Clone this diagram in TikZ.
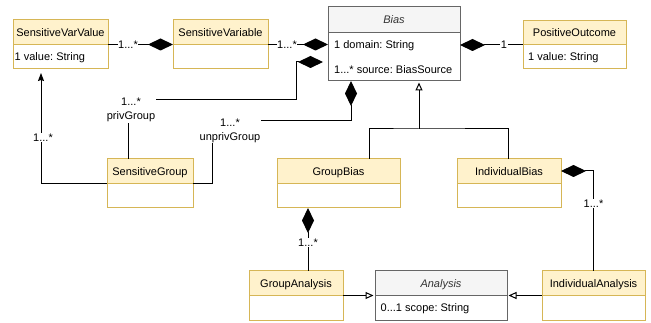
\documentclass[tikz,border=0pt]{standalone}
\usepackage{fontspec}
\setmainfont{Liberation Sans}
\usetikzlibrary{arrows.meta,calc}
\definecolor{yfill}{HTML}{FFF2CC}
\definecolor{yline}{HTML}{D6B656}
\definecolor{gfill}{HTML}{F5F5F5}
\definecolor{gline}{HTML}{666666}
\definecolor{gtext}{HTML}{333333}
\tikzset{
 every node/.style={font=\fontsize{11}{14}\selectfont\frenchspacing},
 boxbase/.style={fill=white, inner sep=0pt, outer sep=0pt},
 ytitle/.style={text=black, text height=8pt, text depth=0pt, inner sep=0pt},
 gtitle/.style={text=gtext, font=\fontsize{11}{14}\selectfont\itshape, text height=8pt, text depth=0pt, inner sep=0pt},
 attr/.style={anchor=west, text height=8pt, text depth=0pt, inner sep=0pt},
 edge/.style={draw=black, line width=1pt},
 comp/.style={edge, -{Diamond[length=25pt,width=12pt]}},
 gen/.style={edge, -{Triangle[length=8pt,width=7pt,fill=white]}, shorten >=1.5pt},
 nav/.style={edge, -{Stealth[length=8pt,width=6pt,inset=1pt]}, shorten >=4pt},
 lbl/.style={fill=white, inner sep=0.5pt, text height=8pt, text depth=0pt},
 lbltwo/.style={fill=white, inner sep=1pt, align=center},
}
\newcommand\umlclass[8]{%
 \node[boxbase, minimum width=#4pt, minimum height=#5pt] (#1) at (#2,#3) {};
 \fill[#7fill] (#1.north west) rectangle ($(#1.north east)+(0,#6)$);
 \draw[#7line, line width=1pt] ($(#1.north west)+(0,#6)$) -- ($(#1.north east)+(0,#6)$);
 \draw[#7line, line width=1pt] (#1.north west) rectangle (#1.south east);
 \node[#7title] (#1-title) at ($(#1.north)+(0,#6/2)$) {#8};
}
\begin{document}
\frenchspacing
\begin{tikzpicture}[x=1pt,y=-1pt]
\useasboundingbox (0,0) rectangle (651,323);
% classes
\umlclass{svv}{60.5}{44.5}{95}{49}{24.5}{y}{SensitiveVarValue}
\umlclass{sv}{220.5}{44.5}{95}{49}{24.5}{y}{SensitiveVariable}
\umlclass{bias}{394}{44}{132}{74}{26}{g}{Bias}
\umlclass{po}{574.5}{45}{103}{48}{23.5}{y}{PositiveOutcome}
\umlclass{sg}{150}{183.5}{86}{49}{25}{y}{SensitiveGroup}
\umlclass{gb}{338.5}{183.5}{123}{49}{24.5}{y}{GroupBias}
\umlclass{ib}{509}{183.5}{104}{49}{24.5}{y}{IndividualBias}
\umlclass{ga}{296}{295.5}{94}{49}{25}{y}{GroupAnalysis}
\umlclass{an}{441}{295.5}{132}{49}{25}{g}{Analysis}
\umlclass{ia}{593.5}{295.5}{103}{49}{25}{y}{IndividualAnalysis}
% attributes
\node[attr] (svv-a) at (14.5,57) {1 value: String};
\node[attr] (po-a) at (528,57) {1 value: String};
\node[attr] (bias-a1) at (334,45) {1 domain: String};
\node[attr] (bias-a2) at (334,70) {1...* source: BiasSource};
\node[attr] (an-a) at (380.5,308) {0...1 scope: String};
% connectors
\draw[comp] (svv.east) -- (sv.west);
\draw[comp] (sv.east) -- (sv.east -| bias.west);
\draw[comp] (po.west) -- (po.west -| bias.east);
\draw[comp, shorten >=5pt] (sg.north -| 128,0) -- (128,100) -- (296,100) -- (296,62) -- (bias.west |- 0,62);
\draw[comp] (sg.east) -| (212,121) -| (bias.south -| 351,0);
\draw[nav] (sg.west) -| (svv.south -| 41,0);
\coordinate (jn) at (419,129);
\draw[edge] (gb.north -| 369,0) |- (jn) -| (ib.north -| 508,0);
\draw[gen] (jn) -- (bias.south -| jn);
\draw[comp] (ia.north -| 593,0) |- (ib.east |- 0,171);
\draw[comp] (ga.north -| 308,0) -- (gb.south -| 308,0);
\draw[gen] (ga.east) -- (an.west);
\draw[gen] (ia.west) -- (an.east);
% multiplicity labels
\node[lbl] (m1) at (128,44.5) {1...*};
\node[lbl] (m2) at (287,44.5) {1...*};
\node[lbl] (m3) at (504,45) {1};
\node[lbltwo] (m4) at (131,110) {1...*\\privGroup};
\node[lbltwo] (m5) at (230,130.5) {1...*\\unprivGroup};
\node[lbl] (m6) at (43,138) {1...*};
\node[lbl] (m7) at (593.5,204) {1...*};
\node[lbl] (m8) at (308,243) {1...*};
\end{tikzpicture}
\end{document}
